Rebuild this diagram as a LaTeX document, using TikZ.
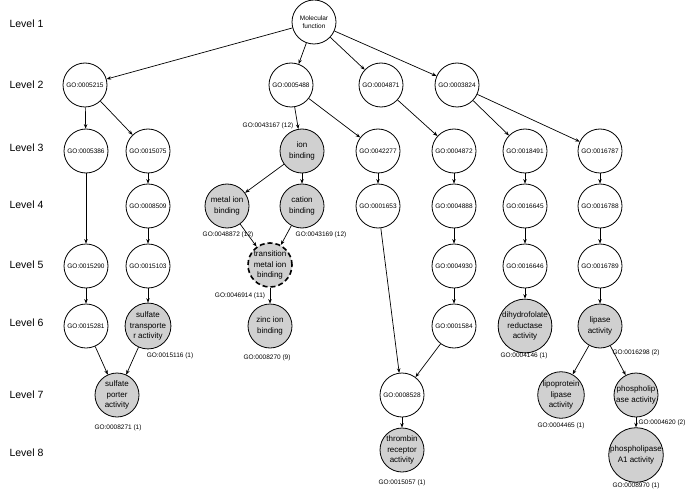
\documentclass[tikz,border=0pt]{standalone}
\usepackage{fontspec}
\setmainfont{Liberation Sans}
\usetikzlibrary{arrows.meta}
\definecolor{nodegray}{RGB}{208,208,208}
\begin{document}
\begin{tikzpicture}[x=1pt,y=-1pt,
 go/.style={circle,draw,line width=0.8pt,minimum size=44pt,inner sep=0pt,align=center,font=\fontsize{6.5}{8}\selectfont},
 term/.style={go,fill=nodegray,font=\fontsize{8}{10.5}\selectfont},
 trm/.style={term,dashed,line width=1.6pt,dash pattern=on 5pt off 3pt},
 lvl/.style={anchor=west,font=\fontsize{10.5}{12}\selectfont},
 tag/.style={font=\fontsize{6.5}{8}\selectfont,inner sep=1pt},
 arr/.style={-{Stealth[length=4.5pt,width=3.5pt]},line width=0.7pt}]
\useasboundingbox (0,0) rectangle (687,489);
% level labels
\node[lvl] (l1) at (6,24) {Level 1};
\node[lvl] (l2) at (6,85) {Level 2};
\node[lvl] (l3) at (6,148) {Level 3};
\node[lvl] (l4) at (6,205) {Level 4};
\node[lvl] (l5) at (6,265) {Level 5};
\node[lvl] (l6) at (6,323) {Level 6};
\node[lvl] (l7) at (6,395) {Level 7};
\node[lvl] (l8) at (6,453) {Level 8};
% level 1
\node[go] (mf) at (314,22) {Molecular\\function};
% level 2
\node[go] (a1) at (85,85) {GO:0005215};
\node[go] (a2) at (291,85) {GO:0005488};
\node[go] (a3) at (381,85) {GO:0004871};
\node[go] (a4) at (457,85) {GO:0003824};
% level 3
\node[go] (b1) at (86,151) {GO:0005386};
\node[go] (b2) at (148,151) {GO:0015075};
\node[term] (ion) at (302,151) {ion\\binding};
\node[go] (b4) at (378,151) {GO:0042277};
\node[go] (b5) at (454,151) {GO:0004872};
\node[go] (b6) at (525,151) {GO:0018491};
\node[go] (b7) at (600,151) {GO:0016787};
% level 4
\node[go] (c2) at (148,206) {GO:0008509};
\node[term] (metal) at (227,206) {metal ion\\binding};
\node[term] (cation) at (302,206) {cation\\binding};
\node[go] (c4) at (378,206) {GO:0001653};
\node[go] (c5) at (454,206) {GO:0004888};
\node[go] (c6) at (525,206) {GO:0016645};
\node[go] (c7) at (600,206) {GO:0016788};
% level 5
\node[go] (d1) at (86,266) {GO:0015290};
\node[go] (d2) at (148,266) {GO:0015103};
\node[trm] (trans) at (270,265) {transition\\metal ion\\binding};
\node[go] (d5) at (454,266) {GO:0004930};
\node[go] (d6) at (525,266) {GO:0016646};
\node[go] (d7) at (600,266) {GO:0016789};
% level 6
\node[go] (e1) at (86,326) {GO:0015281};
\node[term] (sta) at (148,326) {sulfate\\transporte\\r activity};
\node[term] (zinc) at (270,326) {zinc ion\\binding};
\node[go] (e5) at (454,326) {GO:0001584};
\node[term] (dhf) at (525,326) {dihydrofolate\\reductase\\activity};
\node[term] (lip) at (600,326) {lipase\\activity};
% level 7
\node[term] (spa) at (117,395) {sulfate\\porter\\activity};
\node[go] (f5) at (402,395) {GO:0008528};
\node[term] (lpl) at (561,395) {lipoprotein\\lipase\\activity};
\node[term] (pla) at (636,395) {phospholip\\ase activity};
% level 8
\node[term] (thr) at (402,450) {thrombin\\receptor\\activity};
\node[term] (pa1) at (636,455) {phospholipase\\A1 activity};
% tags
\node[tag] (t1) at (268,126) {GO:0043167 (12)};
\node[tag] (t2) at (228,235) {GO:0048872 (12)};
\node[tag] (t3) at (321,235) {GO:0043169 (12)};
\node[tag] (t4) at (240,296) {GO:0046914 (11)};
\node[tag] (t5) at (170,356) {GO:0015116 (1)};
\node[tag] (t6) at (267,358) {GO:0008270 (9)};
\node[tag] (t7) at (524,356) {GO:0004146 (1)};
\node[tag] (t8) at (636,353) {GO:0016298 (2)};
\node[tag] (t9) at (118,428) {GO:0008271 (1)};
\node[tag] (t10) at (561,426) {GO:0004465 (1)};
\node[tag] (t11) at (662,423) {GO:0004620 (2)};
\node[tag] (t12) at (402,483) {GO:0015057 (1)};
\node[tag] (t13) at (636,485.5) {GO:0008970 (1)};
% edges
\foreach \s/\t in {mf/a1,mf/a2,mf/a3,mf/a4,
 a1/b1,a1/b2,a2/ion,a2/b4,a3/b5,a4/b6,a4/b7,
 b1/d1,b2/c2,c2/d2,d2/sta,d1/e1,e1/spa,sta/spa,
 ion/metal,ion/cation,metal/trans,cation/trans,trans/zinc,
 b4/c4,c4/f5,b5/c5,c5/d5,d5/e5,e5/f5,f5/thr,
 b6/c6,c6/d6,d6/dhf,b7/c7,c7/d7,d7/lip,lip/lpl,lip/pla,pla/pa1}
 \draw[arr] (\s) -- (\t);
\end{tikzpicture}
\end{document}
